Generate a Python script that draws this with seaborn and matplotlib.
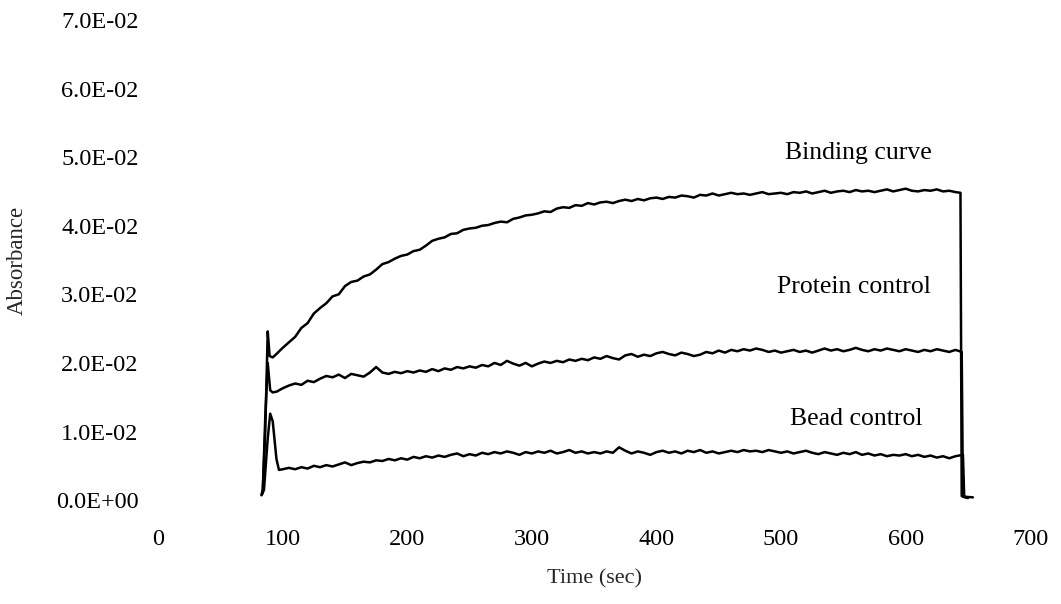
import matplotlib
matplotlib.use("Agg")
import matplotlib.pyplot as plt
import seaborn as sns
import pandas as pd

# ---------------- data ----------------
series_names = ["Binding curve", "Protein control", "Bead control"]

main_time = [100, 105, 110, 115, 120, 125, 130, 135, 140, 145, 150, 155, 160, 165, 170,
             175, 180, 185, 190, 195, 200, 205, 210, 215, 220, 225, 230, 235, 240, 245,
             250, 255, 260, 265, 270, 275, 280, 285, 290, 295, 300, 305, 310, 315, 320,
             325, 330, 335, 340, 345, 350, 355, 360, 365, 370, 375, 380, 385, 390, 395,
             400, 405, 410, 415, 420, 425, 430, 435, 440, 445, 450, 455, 460, 465, 470,
             475, 480, 485, 490, 495, 500, 505, 510, 515, 520, 525, 530, 535, 540, 545,
             550, 555, 560, 565, 570, 575, 580, 585, 590, 595, 600, 605, 610, 615, 620,
             625, 630, 635, 640]

binding_lead_time = [83, 84, 86, 88, 89.5, 92, 95]
binding_lead = [0.0008, 0.0015, 0.0100, 0.0246, 0.0210, 0.0208, 0.0213]
binding_main = [0.0222, 0.0230, 0.0238, 0.0251, 0.0258, 0.0272, 0.0280, 0.0287, 0.0297, 0.0300,
                0.0312, 0.0318, 0.0320, 0.0326, 0.0329, 0.0336, 0.0344, 0.0347, 0.0352, 0.0356,
                0.0358, 0.0363, 0.0365, 0.0371, 0.0378, 0.0381, 0.0383, 0.0388, 0.0389, 0.0394,
                0.0396, 0.0397, 0.0400, 0.0401, 0.0404, 0.0406, 0.0405, 0.0410, 0.0412, 0.0415,
                0.0416, 0.0418, 0.0421, 0.0420, 0.0425, 0.0427, 0.0426, 0.0430, 0.0429, 0.0433,
                0.0431, 0.0434, 0.0435, 0.0433, 0.0436, 0.0438, 0.0436, 0.0439, 0.0437, 0.0440,
                0.0441, 0.0439, 0.0442, 0.0441, 0.0444, 0.0443, 0.0441, 0.0445, 0.0444, 0.0447,
                0.0444, 0.0446, 0.0448, 0.0446, 0.0447, 0.0445, 0.0447, 0.0449, 0.0446, 0.0447,
                0.0448, 0.0446, 0.0449, 0.0448, 0.0450, 0.0447, 0.0449, 0.0451, 0.0448, 0.0450,
                0.0451, 0.0449, 0.0452, 0.0450, 0.0451, 0.0449, 0.0451, 0.0453, 0.0450, 0.0452,
                0.0454, 0.0451, 0.0450, 0.0452, 0.0451, 0.0453, 0.0450, 0.0451, 0.0449]
binding_tail_time = [644, 645, 649]
binding_tail = [0.0448, 0.0006, 0.0004]

protein_lead_time = [84, 86, 88, 90, 92, 95]
protein_lead = [0.0010, 0.0120, 0.0200, 0.0160, 0.0157, 0.0158]
protein_main = [0.0163, 0.0167, 0.0170, 0.0168, 0.0174, 0.0172, 0.0177, 0.0181, 0.0179, 0.0183,
                0.0178, 0.0184, 0.0182, 0.0180, 0.0186, 0.0194, 0.0186, 0.0184, 0.0187, 0.0185,
                0.0188, 0.0186, 0.0189, 0.0187, 0.0191, 0.0188, 0.0192, 0.0190, 0.0194, 0.0192,
                0.0195, 0.0193, 0.0197, 0.0195, 0.0200, 0.0197, 0.0203, 0.0199, 0.0196, 0.0200,
                0.0195, 0.0199, 0.0202, 0.0200, 0.0203, 0.0201, 0.0205, 0.0203, 0.0206, 0.0204,
                0.0208, 0.0206, 0.0210, 0.0207, 0.0205, 0.0211, 0.0213, 0.0209, 0.0212, 0.0210,
                0.0214, 0.0216, 0.0213, 0.0211, 0.0215, 0.0213, 0.0210, 0.0212, 0.0216, 0.0214,
                0.0218, 0.0215, 0.0219, 0.0217, 0.0220, 0.0218, 0.0221, 0.0219, 0.0216, 0.0218,
                0.0215, 0.0217, 0.0219, 0.0216, 0.0218, 0.0215, 0.0218, 0.0221, 0.0218, 0.0220,
                0.0217, 0.0219, 0.0222, 0.0219, 0.0217, 0.0220, 0.0218, 0.0221, 0.0219, 0.0217,
                0.0220, 0.0218, 0.0216, 0.0219, 0.0217, 0.0220, 0.0218, 0.0216, 0.0219]
protein_tail_time = [645, 646, 650]
protein_tail = [0.0216, 0.0005, 0.0003]

bead_lead_time = [83, 85, 88, 90, 92, 95, 97]
bead_lead = [0.0007, 0.0015, 0.0090, 0.0126, 0.0115, 0.0060, 0.0044]
bead_main = [0.0045, 0.0047, 0.0045, 0.0048, 0.0046, 0.0050, 0.0048, 0.0051, 0.0049, 0.0052,
             0.0055, 0.0051, 0.0054, 0.0056, 0.0055, 0.0058, 0.0057, 0.0060, 0.0058, 0.0061,
             0.0059, 0.0063, 0.0061, 0.0064, 0.0062, 0.0065, 0.0063, 0.0066, 0.0068, 0.0064,
             0.0067, 0.0065, 0.0069, 0.0067, 0.0070, 0.0068, 0.0071, 0.0069, 0.0066, 0.0070,
             0.0068, 0.0071, 0.0069, 0.0072, 0.0068, 0.0070, 0.0073, 0.0069, 0.0071, 0.0068,
             0.0070, 0.0068, 0.0071, 0.0069, 0.0077, 0.0072, 0.0068, 0.0071, 0.0069, 0.0066,
             0.0070, 0.0072, 0.0069, 0.0071, 0.0068, 0.0072, 0.0070, 0.0073, 0.0069, 0.0071,
             0.0068, 0.0070, 0.0072, 0.0070, 0.0073, 0.0071, 0.0072, 0.0070, 0.0073, 0.0071,
             0.0069, 0.0071, 0.0068, 0.0070, 0.0072, 0.0069, 0.0067, 0.0070, 0.0068, 0.0066,
             0.0069, 0.0067, 0.0070, 0.0066, 0.0068, 0.0065, 0.0067, 0.0064, 0.0066, 0.0065,
             0.0067, 0.0064, 0.0066, 0.0063, 0.0065, 0.0062, 0.0064, 0.0061, 0.0064]
bead_tail_time = [646, 647, 654]
bead_tail = [0.0066, 0.0005, 0.0004]

x_ticks = [0, 100, 200, 300, 400, 500, 600, 700]
y_ticks = [0.0, 0.01, 0.02, 0.03, 0.04, 0.05, 0.06, 0.07]
y_tick_labels = ["0.0E+00", "1.0E-02", "2.0E-02", "3.0E-02", "4.0E-02", "5.0E-02", "6.0E-02", "7.0E-02"]

label_pos_x = [503, 497, 507]
label_pos_y = [0.0506, 0.0310, 0.0118]

# ---------------- build long-form table ----------------
frames = []
for name, lt, lv, mv, tt, tv in [
    (series_names[0], binding_lead_time, binding_lead, binding_main, binding_tail_time, binding_tail),
    (series_names[1], protein_lead_time, protein_lead, protein_main, protein_tail_time, protein_tail),
    (series_names[2], bead_lead_time, bead_lead, bead_main, bead_tail_time, bead_tail),
]:
    t = list(lt) + list(main_time) + list(tt)
    v = list(lv) + list(mv) + list(tv)
    frames.append(pd.DataFrame({"Time": t, "Absorbance": v, "Series": name}))
df = pd.concat(frames, ignore_index=True)

# ---------------- plot ----------------
sns.set_style("white")
plt.rcParams["font.family"] = ["Liberation Serif", "DejaVu Serif"]

fig = plt.figure(figsize=(10.61, 6.04), dpi=100)
ax = fig.add_axes([0.149, 0.172, 0.822, 0.795])

sns.lineplot(data=df, x="Time", y="Absorbance", hue="Series", units="Series",
             estimator=None, sort=False, palette=["black"] * 3, linewidth=1.8,
             legend=False, ax=ax)

ax.set_xlim(0, 700)
ax.set_ylim(0, 0.07)
ax.set_xticks(x_ticks)
ax.set_xticklabels([str(v) for v in x_ticks])
ax.set_yticks(y_ticks)
ax.set_yticklabels(y_tick_labels)
ax.tick_params(axis="both", length=0, labelsize=17.5, colors="black")
ax.tick_params(axis="y", pad=14)
ax.tick_params(axis="x", pad=21)
for s in ax.spines.values():
    s.set_visible(False)

ax.set_xlabel("Time (sec)", fontsize=16, labelpad=14)
ax.set_ylabel("Absorbance", fontsize=16.5, labelpad=20)

for name, lx, ly in zip(series_names, label_pos_x, label_pos_y):
    ax.text(lx, ly, name, fontsize=18.5, ha="left", va="center", color="black")

fig.savefig("out.png", dpi=100, facecolor="white")
